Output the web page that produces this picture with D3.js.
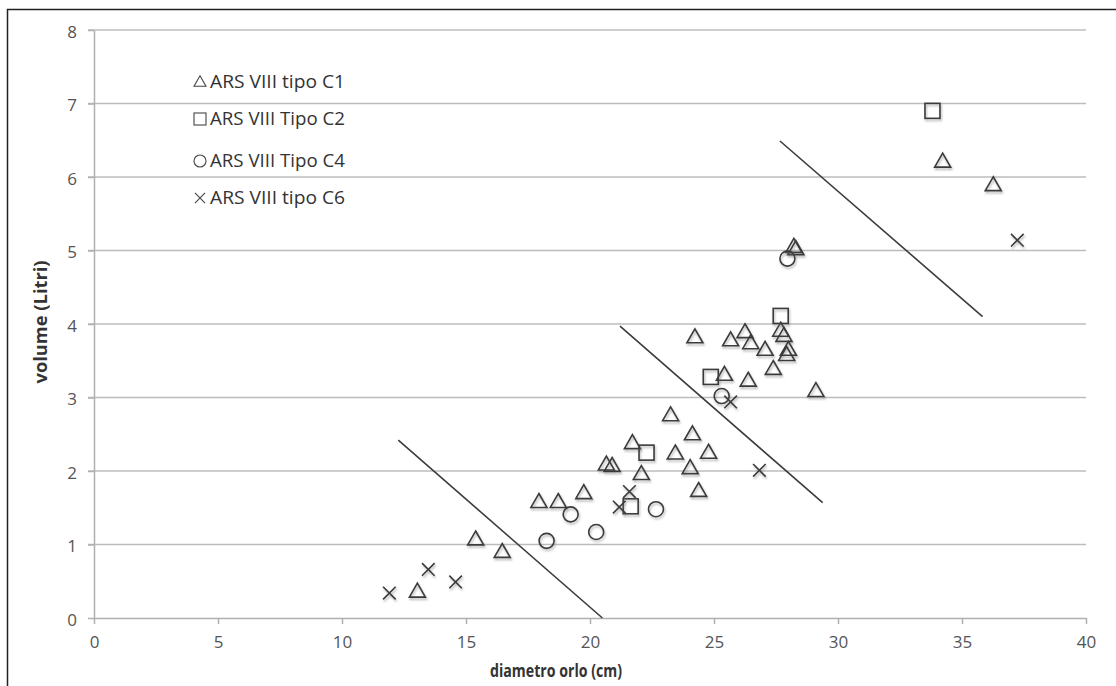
<!DOCTYPE html>
<html>
<head>
<meta charset="utf-8">
<script src="https://cdn.jsdelivr.net/npm/d3@7"></script>
<style>
	body { margin: 0; background: #fff; }
	svg { display: block; font-family: "Open Sans", "DejaVu Sans", sans-serif; }
</style>
</head>
<body>
<div id="chart"></div>
<script>

// series values
var c1X = [13.04, 15.39, 16.46, 17.94, 18.72, 19.75, 20.66, 20.89, 21.71, 22.07, 23.25, 23.44, 24.04, 24.13, 24.38, 24.78,
           24.23, 25.42, 25.67, 26.25, 26.48, 26.38, 27.06, 27.39, 27.69, 27.82, 28.00, 27.93, 29.11, 28.22, 28.30, 34.22, 36.26];
var c1Y = [0.36, 1.07, 0.90, 1.58, 1.58, 1.70, 2.09, 2.07, 2.38, 1.96, 2.76, 2.24, 2.04, 2.50, 1.73, 2.25,
           3.82, 3.31, 3.78, 3.89, 3.74, 3.23, 3.65, 3.39, 3.91, 3.84, 3.65, 3.58, 3.09, 5.05, 5.02, 6.21, 5.89];

var c2X = [21.64, 22.28, 24.87, 27.69, 33.81];
var c2Y = [1.52, 2.25, 3.28, 4.11, 6.90];

var c4X = [18.25, 19.22, 20.25, 22.66, 25.31, 27.96];
var c4Y = [1.05, 1.41, 1.17, 1.48, 3.02, 4.89];

var c6X = [11.91, 13.48, 14.58, 21.18, 21.59, 25.67, 26.83, 37.23];
var c6Y = [0.34, 0.66, 0.49, 1.51, 1.72, 2.94, 2.01, 5.14];

// separator lines: [x1, y1, x2, y2]
var dividers = [
	[12.27, 2.42, 20.50, 0.00],
	[21.21, 3.97, 29.38, 1.57],
	[27.66, 6.49, 35.83, 4.10]
];

var seriesNames = ["ARS VIII tipo C1", "ARS VIII Tipo C2", "ARS VIII Tipo C4", "ARS VIII tipo C6"];
var seriesShapes = ["triangle", "square", "circle", "cross"];
var xTicks = [0, 5, 10, 15, 20, 25, 30, 35, 40];
var yTicks = [0, 1, 2, 3, 4, 5, 6, 7, 8];

var 
	width = 1116,
	height = 686,
	
	x = d3.scaleLinear().domain([0, 40]).range([94, 1086]),
	y = d3.scaleLinear().domain([0, 8]).range([618, 30]),
	
	svg = d3.select("#chart")
			.append("svg")
			.attr("width", width)
			.attr("height", height),
	
	zip = function(xs, ys){
		return xs.map(function(v, i){ return [v, ys[i]]; });
	},
	
	// draws one marker shape centred on 0,0
	marker = function(sel, shape, s){
		if (shape == "triangle"){
			var h = s * 0.87;
			sel.append("path").attr("d", "M0," + (-h*0.6) + "L" + (s/2) + "," + (h*0.4) + "L" + (-s/2) + "," + (h*0.4) + "Z");
		} else if (shape == "square"){
			sel.append("rect").attr("x", -s/2).attr("y", -s/2).attr("width", s).attr("height", s);
		} else if (shape == "circle"){
			sel.append("circle").attr("r", s/2);
		} else {
			var c = s * 0.42;
			sel.append("path").attr("d", "M" + (-c) + "," + (-c) + "L" + c + "," + c + "M" + c + "," + (-c) + "L" + (-c) + "," + c);
		}
	};

var defs = svg.append("defs");
var f = defs.append("filter").attr("id", "shadow").attr("x", "-50%").attr("y", "-50%").attr("width", "200%").attr("height", "200%");
f.append("feDropShadow")
	.attr("dx", 1).attr("dy", 2)
	.attr("stdDeviation", 1)
	.attr("flood-color", "#777")
	.attr("flood-opacity", 0.55);

// frame
svg.append("path")
	.attr("d", "M7.5," + height + "V9.5H" + width)
	.style("fill", "none")
	.style("stroke", "#222")
	.style("stroke-width", 1.5);

// grid lines
svg.append("g")
	.selectAll("line")
	.data(yTicks.slice(1))
	.enter()
	.append("line")
	.attr("x1", 88)
	.attr("x2", x(40))
	.attr("y1", function(d){ return y(d); })
	.attr("y2", function(d){ return y(d); })
	.style("stroke", "#bcbcbc")
	.style("stroke-width", 1.5);

// axes
var xAxis = svg.append("g")
	.attr("transform", "translate(0," + y(0) + ")")
	.call(d3.axisBottom(x).tickValues(xTicks).tickSize(6).tickPadding(12).tickSizeOuter(0));

var yAxis = svg.append("g")
	.attr("transform", "translate(" + x(0) + ",0)")
	.call(d3.axisLeft(y).tickValues(yTicks).tickSize(6).tickPadding(11).tickSizeOuter(0));

[xAxis, yAxis].forEach(function(a){
	a.select(".domain").style("stroke", "#b0b0b0").style("stroke-width", 1.5);
	a.selectAll(".tick line").style("stroke", "#b0b0b0").style("stroke-width", 1.5);
	a.selectAll(".tick text")
		.style("fill", "#555")
		.style("font-size", "17px")
		.style("font-family", "\"Open Sans\", sans-serif");
});
yAxis.selectAll(".tick text").attr("dy", "0.42em");

// axis titles
svg.append("text")
	.attr("x", 556)
	.attr("y", 677)
	.attr("text-anchor", "middle")
	.attr("textLength", 132)
	.attr("lengthAdjust", "spacingAndGlyphs")
	.style("font-size", "17px")
	.style("font-weight", "bold")
	.style("fill", "#333")
	.text("diametro orlo (cm)");

svg.append("text")
	.attr("transform", "translate(47,322) rotate(-90)")
	.attr("text-anchor", "middle")
	.attr("textLength", 123)
	.attr("lengthAdjust", "spacingAndGlyphs")
	.style("font-size", "17px")
	.style("font-weight", "bold")
	.style("fill", "#333")
	.text("volume (Litri)");

// separator lines
svg.append("g")
	.selectAll("line")
	.data(dividers)
	.enter()
	.append("line")
	.attr("x1", function(d){ return x(d[0]); })
	.attr("y1", function(d){ return y(d[1]); })
	.attr("x2", function(d){ return x(d[2]); })
	.attr("y2", function(d){ return y(d[3]); })
	.style("stroke", "#3c3c3c")
	.style("stroke-width", 1.6);

// points
var series = [zip(c1X, c1Y), zip(c2X, c2Y), zip(c4X, c4Y), zip(c6X, c6Y)];
var sizes = [16, 15, 15, 15];

series.forEach(function(pts, i){
	svg.append("g")
		.attr("filter", "url(#shadow)")
		.selectAll("g")
		.data(pts)
		.enter()
		.append("g")
		.attr("transform", function(d){ return "translate(" + x(d[0]) + "," + y(d[1]) + ")"; })
		.style("fill", "none")
		.style("stroke", "#3a3a3a")
		.style("stroke-width", 1.6)
		.each(function(){ marker(d3.select(this), seriesShapes[i], sizes[i]); });
});

// legend
var legendY = [82, 119, 161, 198];
var legend = svg.append("g");
seriesNames.forEach(function(name, i){
	var row = legend.append("g").attr("transform", "translate(200," + legendY[i] + ")");
	row.append("g")
		.style("fill", "none")
		.style("stroke", "#444")
		.style("stroke-width", 1.1)
		.call(marker, seriesShapes[i], 12);
	row.append("text")
		.attr("x", 10)
		.attr("dy", "0.36em")
		.attr("textLength", 135)
		.attr("lengthAdjust", "spacingAndGlyphs")
		.style("font-size", "18px")
		.style("fill", "#333")
		.text(name);
});

</script>
</body>
</html>
